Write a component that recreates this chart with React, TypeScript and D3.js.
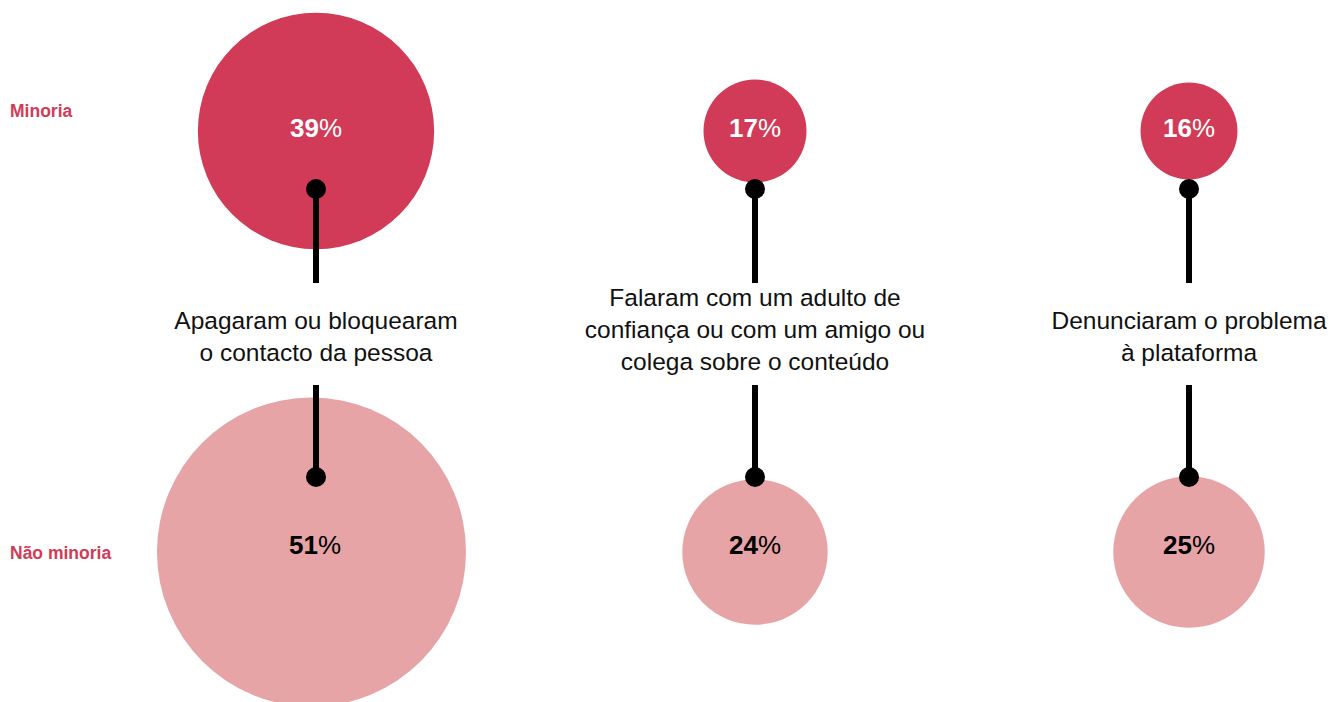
import React from "react";
import * as d3 from "d3";

const categories = [
  ["Apagaram ou bloquearam", "o contacto da pessoa"],
  ["Falaram com um adulto de", "confiança ou com um amigo ou", "colega sobre o conteúdo"],
  ["Denunciaram o problema", "à plataforma"],
];
const minoria = [39, 17, 16];
const naoMinoria = [51, 24, 25];
const groups = ["Minoria", "Não minoria"];

const W = 1334;
const H = 702;
const COLS = [316, 755, 1189];
const TOP_Y = 131;
const BOT_Y = 552;
const DARK = "#D13B57";
const LIGHT = "#E6A4A7";
const FONT = "'Liberation Sans', Arial, sans-serif";

export default function App() {
  const r = d3.scaleLinear().domain([0, 51]).range([0, 154.5]);
  const x = (i: number) => COLS[i];
  return (
    <svg width={W} height={H} style={{ position: "absolute", left: 0, top: 0 }}>
      <rect width={W} height={H} fill="#fff" />
      <text x={10} y={111} dy="0.35em" fill={DARK} fontFamily={FONT} fontWeight="bold" fontSize={17.5}>
        {groups[0]}
      </text>
      <text x={10} y={553} dy="0.35em" fill={DARK} fontFamily={FONT} fontWeight="bold" fontSize={17.5}>
        {groups[1]}
      </text>
      {categories.map((lines, i) => {
        const cx = x(i);
        const n = lines.length;
        const mid = 336 - (n - 2) * 7;
        return (
          <g key={i}>
            <circle cx={cx} cy={TOP_Y} r={r(minoria[i])} fill={DARK} />
            <circle cx={i === 0 ? cx - 4.5 : cx} cy={BOT_Y} r={r(naoMinoria[i])} fill={LIGHT} />
            <line x1={cx} x2={cx} y1={189} y2={283} stroke="#000" strokeWidth={6} />
            <line x1={cx} x2={cx} y1={385} y2={477} stroke="#000" strokeWidth={6} />
            <circle cx={cx} cy={189} r={10} fill="#000" />
            <circle cx={cx} cy={477} r={10} fill="#000" />
            <text x={cx} y={128} dy="0.35em" textAnchor="middle" fill="#fff" fontFamily={FONT} fontSize={26} fontWeight="bold">
              {minoria[i]}
              <tspan fontWeight="normal">%</tspan>
            </text>
            <text x={i === 0 ? cx - 1 : cx} y={545} dy="0.35em" textAnchor="middle" fill="#000" fontFamily={FONT} fontSize={26} fontWeight="bold">
              {naoMinoria[i]}
              <tspan fontWeight="normal">%</tspan>
            </text>
            {lines.map((ln, j) => (
              <text
                key={j}
                x={cx}
                y={mid + (j - (n - 1) / 2) * 32}
                dy="0.35em"
                textAnchor="middle"
                fill="#111"
                fontFamily={FONT}
                fontSize={24.5}
              >
                {ln}
              </text>
            ))}
          </g>
        );
      })}
    </svg>
  );
}
